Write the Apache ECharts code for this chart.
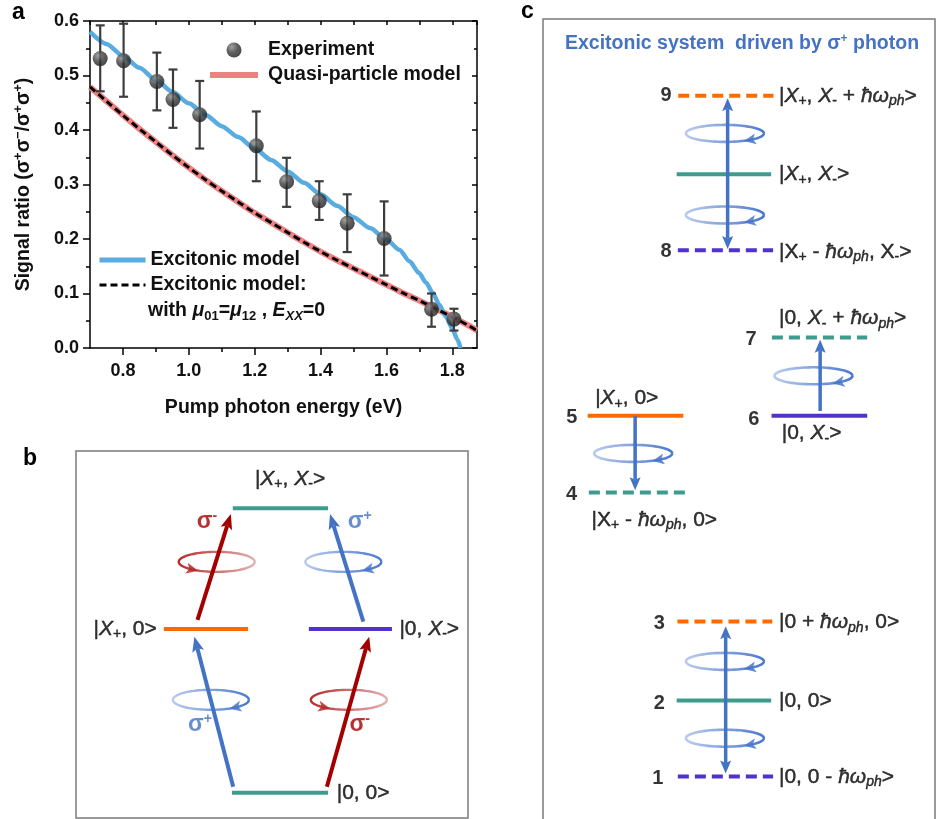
<!DOCTYPE html>
<html><head><meta charset="utf-8">
<script src="https://cdn.jsdelivr.net/npm/echarts@6/dist/echarts.min.js"></script>
<style>html,body{margin:0;padding:0;background:#fff}#c{width:936px;height:819px}</style>
</head><body><div id="c"></div>
<script>
// ================= Panel a data =================
const xMajorTicks = [0.8, 1.0, 1.2, 1.4, 1.6, 1.8];
const xMinorTicks = [0.9, 1.1, 1.3, 1.5, 1.7];

const expX    = [0.731, 0.802, 0.903, 0.952, 1.033, 1.205, 1.297, 1.396, 1.481, 1.593, 1.737, 1.805];
const expY    = [0.531, 0.527, 0.489, 0.456, 0.428, 0.371, 0.305, 0.270, 0.229, 0.201, 0.071, 0.053];
const expHigh = [0.592, 0.595, 0.542, 0.511, 0.490, 0.434, 0.349, 0.306, 0.282, 0.269, 0.100, 0.072];
const expLow  = [0.471, 0.461, 0.436, 0.404, 0.366, 0.306, 0.259, 0.235, 0.176, 0.133, 0.039, 0.032];

const excitonX = [0.70,0.75,0.80,0.85,0.90,0.95,1.00,1.05,1.10,1.15,1.20,1.25,1.30,1.35,1.40,1.45,1.50,1.55,1.60,1.64,1.67,1.70,1.72,1.74,1.76,1.78,1.80,1.815,1.825];
const excitonY = [0.580,0.558,0.536,0.514,0.492,0.470,0.449,0.428,0.407,0.387,0.366,0.345,0.324,0.303,0.282,0.261,0.240,0.220,0.199,0.180,0.159,0.137,0.120,0.102,0.080,0.058,0.036,0.016,0.000];

const quasiX = [0.70,0.75,0.80,0.85,0.90,0.95,1.00,1.05,1.10,1.15,1.20,1.25,1.30,1.35,1.40,1.45,1.50,1.55,1.60,1.65,1.70,1.75,1.80,1.85,1.875];
const quasiY = [0.479,0.453,0.427,0.402,0.378,0.354,0.331,0.309,0.288,0.268,0.248,0.230,0.212,0.194,0.177,0.161,0.146,0.131,0.116,0.101,0.087,0.072,0.057,0.041,0.032];

const excEqX = [0.70,0.75,0.80,0.85,0.90,0.95,1.00,1.05,1.10,1.15,1.20,1.25,1.30,1.35,1.40,1.45,1.50,1.55,1.60,1.65,1.70,1.75,1.80,1.85,1.875];
const excEqY = [0.479,0.453,0.427,0.402,0.378,0.354,0.331,0.309,0.288,0.268,0.248,0.230,0.212,0.194,0.177,0.161,0.146,0.131,0.116,0.101,0.087,0.072,0.057,0.041,0.032];

// ================= Panel b data (diagram units, % of box) =================
const bLevelX0 = [39.8, 22.4, 59.4, 40.0];
const bLevelX1 = [64.3, 43.9, 80.6, 64.3];
const bLevelY  = [6.9, 51.5, 51.5, 84.4];
const bLevelTone = [1, 0, 2, 1];           // 0 |X+> type, 1 ground/biexciton, 2 |X-> type
const bLevelVirtual = [0, 0, 0, 0];

const bArrowX0 = [40.1, 64.0, 31.0, 73.3];
const bArrowY0 = [8.5, 8.5, 54.0, 53.5];
const bArrowX1 = [30.2, 74.8, 39.5, 64.8];
const bArrowY1 = [49.4, 49.4, 82.8, 82.8];
const bArrowPol = ['+', '-', '-', '+'];

const bPolX = [35.9, 68.2, 34.4, 69.6];
const bPolY = [69.8, 69.8, 32.2, 32.2];
const bPol  = ['-', '+', '+', '-'];

const bStateText = ['|0, 0>', '|{i|X}{sb|+}, 0>', '|0, {i|X}{sb|-}>', '|{i|X}{sb|+}, {i|X}{sb|-}>'];
const bStateX = [66.5, 20.6, 82.5, 54.6];
const bStateY = [6.7, 51.5, 51.5, 92.4];
const bStateSide = ['r', 'l', 'r', 'c'];

const bSigmaX = [33.4, 72.4, 31.6, 72.4];
const bSigmaY = [80.7, 80.7, 25.3, 25.3];
const bSigmaPol = ['-', '+', '+', '-'];

// ================= Panel c data (diagram units, % of box) =================
const cLevelX0 = [34.5, 34.1, 34.4, 11.4, 11.7, 58.3, 58.4, 34.3, 34.1, 34.4];
const cLevelX1 = [58.8, 58.2, 58.7, 35.8, 36.2, 82.7, 82.7, 58.5, 58.2, 58.7];
const cLevelY  = [90.4, 80.6, 71.1, 50.4, 40.8, 50.4, 60.2, 24.7, 14.8, 5.3];
const cLevelTone = [0, 1, 2, 0, 1, 2, 1, 0, 1, 2];
const cLevelVirtual = [1, 0, 1, 0, 1, 0, 1, 1, 0, 1];

const cArrowX0 = [47.1, 23.5, 70.7, 46.6];
const cArrowY0 = [71.25, 50.4, 51.0, 5.7];
const cArrowX1 = [47.1, 23.5, 70.7, 46.6];
const cArrowY1 = [90.1, 41.1, 59.9, 24.1];
const cArrowBoth = [1, 0, 0, 1];

const cPolX = [46.4, 46.4, 23.0, 69.0, 46.4, 46.4];
const cPolY = [85.7, 75.5, 45.7, 55.4, 19.7, 10.1];

const cNumText = ['9', '8', '5', '4', '6', '7', '3', '2', '1'];
const cNumX = [32.8, 32.8, 8.75, 8.7, 55.2, 54.5, 31.1, 31.1, 30.7];
const cNumY = [90.4, 71.0, 50.2, 40.6, 49.9, 59.9, 24.5, 14.5, 5.1];

const cStateText = [
  '|{i|X}{sb|+}, {i|X}{sb|-} + {i|ħω}{sbi|ph}>',
  '|{i|X}{sb|+}, {i|X}{sb|-}>',
  '|X{sb|+} - {i|ħω}{sbi|ph}, X{sb|-}>',
  '|{i|X}{sb|+}, 0>',
  '|X{sb|+} - {i|ħω}{sbi|ph}, 0>',
  '|0, {i|X}{sb|-}>',
  '|0, {i|X}{sb|-} + {i|ħω}{sbi|ph}>',
  '|0 + {i|ħω}{sbi|ph}, 0>',
  '|0, 0>',
  '|0, 0 - {i|ħω}{sbi|ph}>'
];
const cStateX = [60.2, 60.2, 60.2, 13.3, 12.4, 60.9, 60.2, 60.2, 60.2, 60.2];
const cStateY = [90.4, 80.6, 70.9, 52.6, 37.4, 48.2, 62.6, 24.6, 14.75, 5.25];

// ================= styling =================
const FONT = '"Liberation Sans", Arial, Helvetica, sans-serif';
const BLUE_ARROW = '#4472C4';
const RED_ARROW = '#A50000';
const levelPalette = ['#FF6A00', '#3E9C8E', '#5133C9'];
const ST = 21;   // state label font size
const TB = {textBorderColor: '#000', textBorderWidth: 0.45};

const chart = echarts.init(document.getElementById('c'), null, {renderer: 'canvas', width: 936, height: 819});

function pairs(xs, ys) { return xs.map((x, i) => [x, ys[i]]); }

const stateRich = {
  i:   Object.assign({fontFamily: FONT, fontSize: ST, fontStyle: 'italic', color: '#000'}, TB),
  sb:  Object.assign({fontFamily: FONT, fontSize: 14, padding: [11, 0, 0, 0], color: '#000'}, TB),
  sbi: Object.assign({fontFamily: FONT, fontSize: 14, fontStyle: 'italic', padding: [11, 0, 0, 0], color: '#000'}, TB)
};
const sigmaRich = {
  bs: {fontFamily: FONT, fontSize: 23, fontWeight: 'bold', color: BLUE_ARROW},
  bp: {fontFamily: FONT, fontSize: 14, fontWeight: 'bold', color: BLUE_ARROW, padding: [0, 0, 12, 0]},
  rs: {fontFamily: FONT, fontSize: 23, fontWeight: 'bold', color: RED_ARROW},
  rp: {fontFamily: FONT, fontSize: 14, fontWeight: 'bold', color: RED_ARROW, padding: [0, 0, 12, 0]}
};
const sidePos = {l: 'left', r: 'right', c: 'inside'};

function levelRender(lw, dash) {
  return function (params, api) {
    const a = api.coord([api.value(0), api.value(2)]);
    const b = api.coord([api.value(1), api.value(2)]);
    const style = {stroke: levelPalette[api.value(3)], lineWidth: lw};
    if (api.value(4)) style.lineDash = dash;
    return {type: 'line', shape: {x1: a[0], y1: a[1], x2: b[0], y2: b[1]}, style: style};
  };
}

function arrowRender(headLen, headW, lw) {
  return function (params, api) {
    const p0 = api.coord([api.value(0), api.value(1)]);
    const p1 = api.coord([api.value(2), api.value(3)]);
    const color = api.value(4) ? RED_ARROW : BLUE_ARROW;
    const both = api.value(5);
    const dx = p1[0] - p0[0], dy = p1[1] - p0[1];
    const L = Math.hypot(dx, dy), ux = dx / L, uy = dy / L;
    const head = (tip, vx, vy) => ({
      type: 'polygon',
      shape: {points: [
        [tip[0], tip[1]],
        [tip[0] - vx * headLen - vy * headW / 2, tip[1] - vy * headLen + vx * headW / 2],
        [tip[0] - vx * headLen * 0.8, tip[1] - vy * headLen * 0.8],
        [tip[0] - vx * headLen + vy * headW / 2, tip[1] - vy * headLen - vx * headW / 2]
      ]},
      style: {fill: color}
    });
    const s = both ? [p0[0] + ux * headLen * 0.8, p0[1] + uy * headLen * 0.8] : p0;
    const e = [p1[0] - ux * headLen * 0.8, p1[1] - uy * headLen * 0.8];
    const children = [
      {type: 'line', shape: {x1: s[0], y1: s[1], x2: e[0], y2: e[1]}, style: {stroke: color, lineWidth: lw}},
      head(p1, ux, uy)
    ];
    if (both) children.push(head(p0, -ux, -uy));
    return {type: 'group', children: children};
  };
}

function rgba(c, a) { return 'rgba(' + c[0] + ',' + c[1] + ',' + c[2] + ',' + a + ')'; }

function polRender(rx, ry, lw) {
  return function (params, api) {
    const c = api.coord([api.value(0), api.value(1)]);
    const minus = api.value(2);
    const base = minus ? [180, 40, 40] : [72, 118, 205];
    const pts = [];
    for (let k = 0; k <= 90; k++) {
      const t = k / 90 * 2 * Math.PI;
      pts.push([c[0] + rx * Math.cos(t), c[1] + ry * Math.sin(t)]);
    }
    const stops = minus
      ? [{offset: 0, color: rgba(base, 1)}, {offset: 1, color: rgba(base, 0.35)}]
      : [{offset: 0, color: rgba(base, 0.35)}, {offset: 1, color: rgba(base, 1)}];
    const grad = new echarts.graphic.LinearGradient(0, 0, 1, 0.4, stops);
    const th = (minus ? 130 : 50) * Math.PI / 180;
    const p = [c[0] + rx * Math.cos(th), c[1] + ry * Math.sin(th)];
    let vx = minus ? rx * Math.sin(th) : -rx * Math.sin(th);
    let vy = minus ? -ry * Math.cos(th) : ry * Math.cos(th);
    const n = Math.hypot(vx, vy); vx /= n; vy /= n;
    const hl = 12, hw = 11;
    const tip = [p[0] + vx * hl / 2, p[1] + vy * hl / 2];
    const tri = [
      tip,
      [tip[0] - vx * hl - vy * hw / 2, tip[1] - vy * hl + vx * hw / 2],
      [tip[0] - vx * hl * 0.75, tip[1] - vy * hl * 0.75],
      [tip[0] - vx * hl + vy * hw / 2, tip[1] - vy * hl - vx * hw / 2]
    ];
    return {type: 'group', children: [
      {type: 'polyline', shape: {points: pts}, style: {stroke: grad, lineWidth: lw, fill: null}},
      {type: 'polygon', shape: {points: tri}, style: {fill: rgba(base, 0.85)}}
    ]};
  };
}

const axisFont = {fontFamily: FONT, fontSize: 18, fontWeight: 'bold', color: '#111'};
const black = {color: '#000', width: 1.5};
const hideSym = {opacity: 0};

const option = {
  animation: false,
  backgroundColor: '#fff',
  grid: [
    {left: 90, top: 21, width: 387, height: 327, outerBoundsMode: 'none'},
    {left: 76, top: 451, width: 392, height: 367, show: true, borderColor: '#7a7a7a', borderWidth: 1.5, backgroundColor: 'transparent', outerBoundsMode: 'none'},
    {left: 543, top: 19, width: 392, height: 805, show: true, borderColor: '#7a7a7a', borderWidth: 1.5, backgroundColor: 'transparent', outerBoundsMode: 'none'}
  ],
  xAxis: [
    {gridIndex: 0, type: 'value', position: 'bottom', min: 0.7, max: 1.875, interval: 0.1,
     axisLine: {show: true, onZero: false, lineStyle: black},
     axisTick: {show: true, inside: false, length: 7, lineStyle: black, customValues: xMajorTicks},
     axisLabel: {show: true, margin: 14, customValues: xMajorTicks, formatter: v => v.toFixed(1), ...axisFont},
     splitLine: {show: false},
     name: 'Pump photon energy (eV)', nameLocation: 'middle', nameGap: 50,
     nameTextStyle: {fontFamily: FONT, fontSize: 19.5, fontWeight: 'bold', color: '#111'}},
    {gridIndex: 0, type: 'value', position: 'bottom', min: 0.7, max: 1.875, interval: 0.1,
     axisLine: {show: false, onZero: false},
     axisTick: {show: true, inside: false, length: 4, lineStyle: black, customValues: xMinorTicks},
     axisLabel: {show: false}, splitLine: {show: false}},
    {gridIndex: 0, type: 'value', position: 'top', min: 0.7, max: 1.875, interval: 0.1,
     axisLine: {show: true, onZero: false, lineStyle: black},
     axisTick: {show: true, inside: true, length: 4, lineStyle: black},
     axisLabel: {show: false}, splitLine: {show: false}},
    {gridIndex: 1, type: 'value', min: 0, max: 100, show: false},
    {gridIndex: 2, type: 'value', min: 0, max: 100, show: false}
  ],
  yAxis: [
    {gridIndex: 0, type: 'value', position: 'left', min: 0, max: 0.6, interval: 0.1,
     axisLine: {show: true, onZero: false, lineStyle: black},
     axisTick: {show: true, inside: false, length: 7, lineStyle: black},
     minorTick: {show: true, splitNumber: 2, length: 4, lineStyle: black},
     axisLabel: {show: true, margin: 11, formatter: v => v.toFixed(1), ...axisFont},
     splitLine: {show: false}, minorSplitLine: {show: false},
     name: 'Signal ratio (σ{sp|+}σ{sp|−}/σ{sp|+}σ{sp|+})', nameLocation: 'middle', nameGap: 54,
     nameTextStyle: {fontFamily: FONT, fontSize: 19.5, fontWeight: 'bold', color: '#111',
       rich: {sp: {fontFamily: FONT, fontSize: 13, fontWeight: 'bold', color: '#111', padding: [0, 0, 11, 0]}}}},
    {gridIndex: 0, type: 'value', position: 'right', min: 0, max: 0.6, interval: 0.1,
     axisLine: {show: true, onZero: false, lineStyle: black},
     axisTick: {show: true, inside: true, length: 5, lineStyle: black},
     minorTick: {show: true, splitNumber: 2, length: 3, lineStyle: black},
     axisLabel: {show: false}, splitLine: {show: false}, minorSplitLine: {show: false}},
    {gridIndex: 1, type: 'value', min: 0, max: 100, show: false},
    {gridIndex: 2, type: 'value', min: -0.625, max: 100, show: false}
  ],
  legend: [
    {left: 207, top: 40, padding: 0, orient: 'vertical', itemWidth: 48, itemHeight: 15, itemGap: 5,
     selectedMode: false,
     data: [{name: 'Experiment', icon: 'circle'},
            {name: 'Quasi-particle model', lineStyle: {width: 6}, itemStyle: hideSym}],
     textStyle: {fontFamily: FONT, fontSize: 19.5, fontWeight: 'bold', color: '#111', padding: [0, 0, 0, 5]}},
    {left: 97, top: 250, padding: 0, orient: 'vertical', itemWidth: 46, itemHeight: 15, itemGap: 5,
     selectedMode: false,
     data: [{name: 'Excitonic model', lineStyle: {width: 5}, itemStyle: hideSym},
            {name: 'Excitonic model:', lineStyle: {width: 3}, itemStyle: hideSym}],
     textStyle: {fontFamily: FONT, fontSize: 19.5, fontWeight: 'bold', color: '#111'}}
  ],
  graphic: [
    {type: 'text', x: 12, y: 24, style: {text: 'a', fontFamily: FONT, fontSize: 23, fontWeight: 'bold', fill: '#000', verticalAlign: 'bottom'}},
    {type: 'text', x: 23, y: 470, style: {text: 'b', fontFamily: FONT, fontSize: 23, fontWeight: 'bold', fill: '#000', verticalAlign: 'bottom'}},
    {type: 'text', x: 521, y: 23, style: {text: 'c', fontFamily: FONT, fontSize: 23, fontWeight: 'bold', fill: '#000', verticalAlign: 'bottom'}},
    {type: 'text', x: 148, y: 311, style: {
      text: '{n|with }{im|μ}{sb|01}{n|=}{im|μ}{sb|12}{n| , }{im|E}{sbi|XX}{n|=0}',
      verticalAlign: 'middle', fontFamily: FONT, fontSize: 19.5, fontWeight: 'bold', fill: '#111',
      rich: {
        n:   {fontFamily: FONT, fontSize: 19.5, fontWeight: 'bold', color: '#111'},
        im:  {fontFamily: FONT, fontSize: 19.5, fontWeight: 'bold', fontStyle: 'italic', color: '#111'},
        sb:  {fontFamily: FONT, fontSize: 13, fontWeight: 'bold', color: '#111', padding: [11, 0, 0, 0]},
        sbi: {fontFamily: FONT, fontSize: 13, fontWeight: 'bold', fontStyle: 'italic', color: '#111', padding: [11, 0, 0, 0]}
      }}},
    {type: 'text', x: 742, y: 44, style: {
      text: 'Excitonic system  driven by σ{sp|+} photon', align: 'center', verticalAlign: 'middle',
      fontFamily: FONT, fontSize: 19.5, fontWeight: 'bold', fill: '#4472C4',
      rich: {sp: {fontFamily: FONT, fontSize: 12, fontWeight: 'bold', color: '#4472C4', padding: [0, 0, 10, 0]}}}}
  ],
  series: [
    // ---------- panel a ----------
    {name: 'Quasi-particle model', type: 'line', xAxisIndex: 0, yAxisIndex: 0, data: pairs(quasiX, quasiY),
     symbol: 'none', smooth: 0.3, lineStyle: {color: '#EE8282', width: 6}, itemStyle: {color: '#EE8282'}, z: 2},
    {name: 'Excitonic model', type: 'line', xAxisIndex: 0, yAxisIndex: 0, data: pairs(excitonX, excitonY),
     symbol: 'none', smooth: 0.25, smoothMonotone: 'x', lineStyle: {color: '#58ACE0', width: 4.5}, itemStyle: {color: '#58ACE0'}, z: 3},
    {name: 'Excitonic model:', type: 'line', xAxisIndex: 0, yAxisIndex: 0, data: pairs(excEqX, excEqY),
     symbol: 'none', smooth: 0.3, lineStyle: {color: '#000', width: 3, type: [7, 4]}, itemStyle: {color: '#000'}, z: 4},
    {name: 'errors', type: 'custom', xAxisIndex: 0, yAxisIndex: 0, z: 5, silent: true,
     data: expX.map((x, i) => [x, expLow[i], expHigh[i]]),
     renderItem: function (params, api) {
       const lo = api.coord([api.value(0), api.value(1)]);
       const hi = api.coord([api.value(0), api.value(2)]);
       const st = {stroke: '#3d3d3d', lineWidth: 2.2};
       const cw = 4.5;
       return {type: 'group', children: [
         {type: 'line', shape: {x1: lo[0], y1: lo[1], x2: hi[0], y2: hi[1]}, style: st},
         {type: 'line', shape: {x1: lo[0] - cw, y1: lo[1], x2: lo[0] + cw, y2: lo[1]}, style: st},
         {type: 'line', shape: {x1: hi[0] - cw, y1: hi[1], x2: hi[0] + cw, y2: hi[1]}, style: st}
       ]};
     }},
    {name: 'Experiment', type: 'scatter', xAxisIndex: 0, yAxisIndex: 0, data: pairs(expX, expY),
     symbol: 'circle', symbolSize: 15, z: 6,
     itemStyle: {color: {type: 'radial', x: 0.35, y: 0.3, r: 0.75,
       colorStops: [{offset: 0, color: '#8a8a8a'}, {offset: 0.5, color: '#3a3a3a'}, {offset: 1, color: '#1a1a1a'}]}}},

    // ---------- panel b ----------
    {type: 'custom', xAxisIndex: 3, yAxisIndex: 2, silent: true, z: 2,
     data: bLevelY.map((y, i) => [bLevelX0[i], bLevelX1[i], y, bLevelTone[i], bLevelVirtual[i]]),
     renderItem: levelRender(4, [10, 6])},
    {type: 'custom', xAxisIndex: 3, yAxisIndex: 2, silent: true, z: 3,
     data: bPolX.map((x, i) => [x, bPolY[i], bPol[i] === '-' ? 1 : 0]),
     renderItem: polRender(38, 10, 2.4)},
    {type: 'custom', xAxisIndex: 3, yAxisIndex: 2, silent: true, z: 4,
     data: bArrowX0.map((x, i) => [x, bArrowY0[i], bArrowX1[i], bArrowY1[i], bArrowPol[i] === '-' ? 1 : 0, 0]),
     renderItem: arrowRender(15, 12, 4)},
    {type: 'scatter', xAxisIndex: 3, yAxisIndex: 2, silent: true, symbolSize: 0, z: 5,
     data: bStateX.map((x, i) => ({value: [x, bStateY[i]], label: {position: sidePos[bStateSide[i]]}})),
     label: Object.assign({show: true, distance: 0, color: '#000', fontFamily: FONT, fontSize: ST,
             formatter: p => bStateText[p.dataIndex], rich: stateRich}, TB)},
    {type: 'scatter', xAxisIndex: 3, yAxisIndex: 2, silent: true, symbolSize: 0, z: 5,
     data: bSigmaX.map((x, i) => [x, bSigmaY[i]]),
     label: {show: true, position: 'inside', fontFamily: FONT, fontSize: 23,
             formatter: p => bSigmaPol[p.dataIndex] === '+' ? '{bs|σ}{bp|+}' : '{rs|σ}{rp|-}', rich: sigmaRich}},

    // ---------- panel c ----------
    {type: 'custom', xAxisIndex: 4, yAxisIndex: 3, silent: true, z: 2,
     data: cLevelY.map((y, i) => [cLevelX0[i], cLevelX1[i], y, cLevelTone[i], cLevelVirtual[i]]),
     renderItem: levelRender(4, [11, 6])},
    {type: 'custom', xAxisIndex: 4, yAxisIndex: 3, silent: true, z: 3,
     data: cPolX.map((x, i) => [x, cPolY[i], 0]),
     renderItem: polRender(39, 8.5, 2.6)},
    {type: 'custom', xAxisIndex: 4, yAxisIndex: 3, silent: true, z: 4,
     data: cArrowX0.map((x, i) => [x, cArrowY0[i], cArrowX1[i], cArrowY1[i], 0, cArrowBoth[i]]),
     renderItem: arrowRender(13, 11, 3.5)},
    {type: 'scatter', xAxisIndex: 4, yAxisIndex: 3, silent: true, symbolSize: 0, z: 5,
     data: cStateX.map((x, i) => [x, cStateY[i]]),
     label: Object.assign({show: true, position: 'right', distance: 0, color: '#000', fontFamily: FONT, fontSize: ST,
             formatter: p => cStateText[p.dataIndex], rich: stateRich}, TB)},
    {type: 'scatter', xAxisIndex: 4, yAxisIndex: 3, silent: true, symbolSize: 0, z: 5,
     data: cNumX.map((x, i) => [x, cNumY[i]]),
     label: {show: true, position: 'left', distance: 0, color: '#000', fontFamily: FONT, fontSize: 20, fontWeight: 'bold',
             formatter: p => cNumText[p.dataIndex]}}
  ]
};
chart.setOption(option);
</script>
</body></html>
